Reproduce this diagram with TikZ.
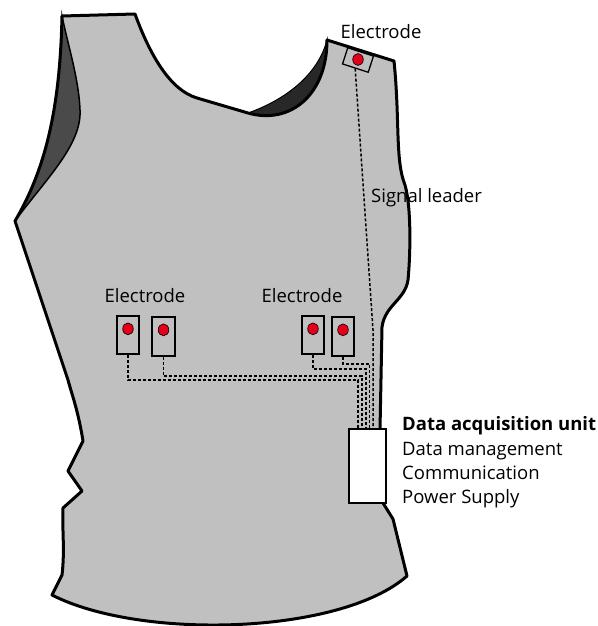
\documentclass[tikz,border=0pt]{standalone}
\usepackage{fontspec}
\setmainfont{Open Sans}
\usetikzlibrary{calc}
\definecolor{vestgray}{RGB}{192,192,192}
\definecolor{armdark}{RGB}{74,74,74}
\definecolor{neckdark}{RGB}{40,40,40}
\definecolor{dotred}{RGB}{226,0,26}
\tikzset{
  outline/.style={line width=3pt, line join=round, line cap=round},
  electrode/.style={draw, line width=1.3pt, minimum width=22pt, minimum height=38pt, inner sep=0pt},
  reddot/.style={fill=dotred, draw=black, line width=0.6pt},
  wire/.style={line width=1.5pt, dash pattern=on 3pt off 2pt},
  label/.style={inner sep=0pt, font=\fontsize{18.5}{22}\selectfont},
  daqbox/.style={draw, fill=white, line width=1.2pt, minimum width=37pt, minimum height=74pt, inner sep=0pt}
}
\begin{document}
\begin{tikzpicture}[x=1pt,y=-1pt]
\useasboundingbox (0,0) rectangle (597,626);

% vest body
\fill[vestgray]
  (62,16) -- (135,14)
  .. controls (150,55) and (170,90) .. (197,98) -- (248,113)
  .. controls (290,125) and (327,95) .. (327,40)
  -- (394,61)
  .. controls (400,120) and (395,160) .. (405,185)
  .. controls (412,210) and (410,260) .. (408,280)
  .. controls (405,300) and (385,305) .. (382,327)
  -- (380,430) -- (383,503) -- (393,519) -- (407,576)
  .. controls (340,635) and (140,640) .. (52,595)
  -- (62,575) .. controls (65,550) and (62,530) .. (63,508)
  -- (82,491) -- (68,471) -- (83,441)
  .. controls (78,410) and (72,395) .. (68,380)
  -- (15,221)
  .. controls (45,170) and (60,110) .. (62,16) -- cycle;

% inside of the back at the left armhole
\filldraw[armdark, draw=black, line width=1.5pt]
  (62,16) .. controls (60,110) and (45,170) .. (15,221)
  .. controls (45,180) and (82,145) .. (80,110)
  .. controls (79,80) and (68,45) .. (62,16) -- cycle;

% inside of the back at the neck
\filldraw[neckdark, draw=black, line width=1pt]
  (248,113) .. controls (290,125) and (327,95) .. (327,40)
  .. controls (318,75) and (285,100) .. (248,113) -- cycle;

% vest outline
\draw[outline]
  (62,16) -- (135,14)
  .. controls (150,55) and (170,90) .. (197,98) -- (248,113)
  .. controls (290,125) and (327,95) .. (327,40)
  -- (394,61)
  .. controls (400,120) and (395,160) .. (405,185)
  .. controls (412,210) and (410,260) .. (408,280)
  .. controls (405,300) and (385,305) .. (382,327)
  -- (380,430) -- (383,503) -- (393,519) -- (407,576)
  .. controls (340,635) and (140,640) .. (52,595)
  -- (62,575) .. controls (65,550) and (62,530) .. (63,508)
  -- (82,491) -- (68,471) -- (83,441)
  .. controls (78,410) and (72,395) .. (68,380)
  -- (15,221)
  .. controls (45,170) and (60,110) .. (62,16) -- cycle;

% electrodes
\node[electrode] (e1) at (128,335) {};
\node[electrode, minimum width=23pt, minimum height=39pt] (e2) at (163.5,336.5) {};
\node[electrode] (e3) at (313,335) {};
\node[electrode, minimum height=39pt] (e4) at (343,336.5) {};
\node[electrode, minimum width=27pt, minimum height=17pt, rotate=-18] (e5) at (358,60) {};

\foreach \e in {e1,e2,e3,e4}
  \draw[reddot] ($(\e.north)+(0,13.5)$) ellipse (5.3pt and 6pt);
\draw[reddot] (358,59.5) ellipse (5.3pt and 6pt);

% data acquisition unit
\node[daqbox] (daq) at (367.5,466) {};

% signal leaders
\coordinate (t1) at (358,380);
\coordinate (t2) at (362,376);
\coordinate (t3) at (366,369);
\coordinate (t4) at (369.5,364);
\coordinate (t5) at (373,330);
\draw[wire] (e1.south) |- (t1) -- (t1 |- daq.north);
\draw[wire] (e2.south) |- (t2) -- (t2 |- daq.north);
\draw[wire] (e3.south) |- (t3) -- (t3 |- daq.north);
\draw[wire] (e4.south) |- (t4) -- (t4 |- daq.north);
\draw[wire] (e5.south) -- (t5) -- (t5 |- daq.north);

% labels
\node[label, anchor=base] (l5) at (381,38) {Electrode};
\node[label, anchor=base] (l12) at (145,302) {Electrode};
\node[label, anchor=base] (l34) at (302,302) {Electrode};
\node[label, anchor=base west] (sig) at (371,202) {Signal leader};
\node[label, anchor=base west, font=\fontsize{18.5}{22}\selectfont\bfseries] (d0) at (402,430) {Data acquisition unit};
\node[label, anchor=base west] (d1) at (402,455) {Data management};
\node[label, anchor=base west] (d2) at (402,479) {Communication};
\node[label, anchor=base west] (d3) at (402,503) {Power Supply};
\end{tikzpicture}
\end{document}
